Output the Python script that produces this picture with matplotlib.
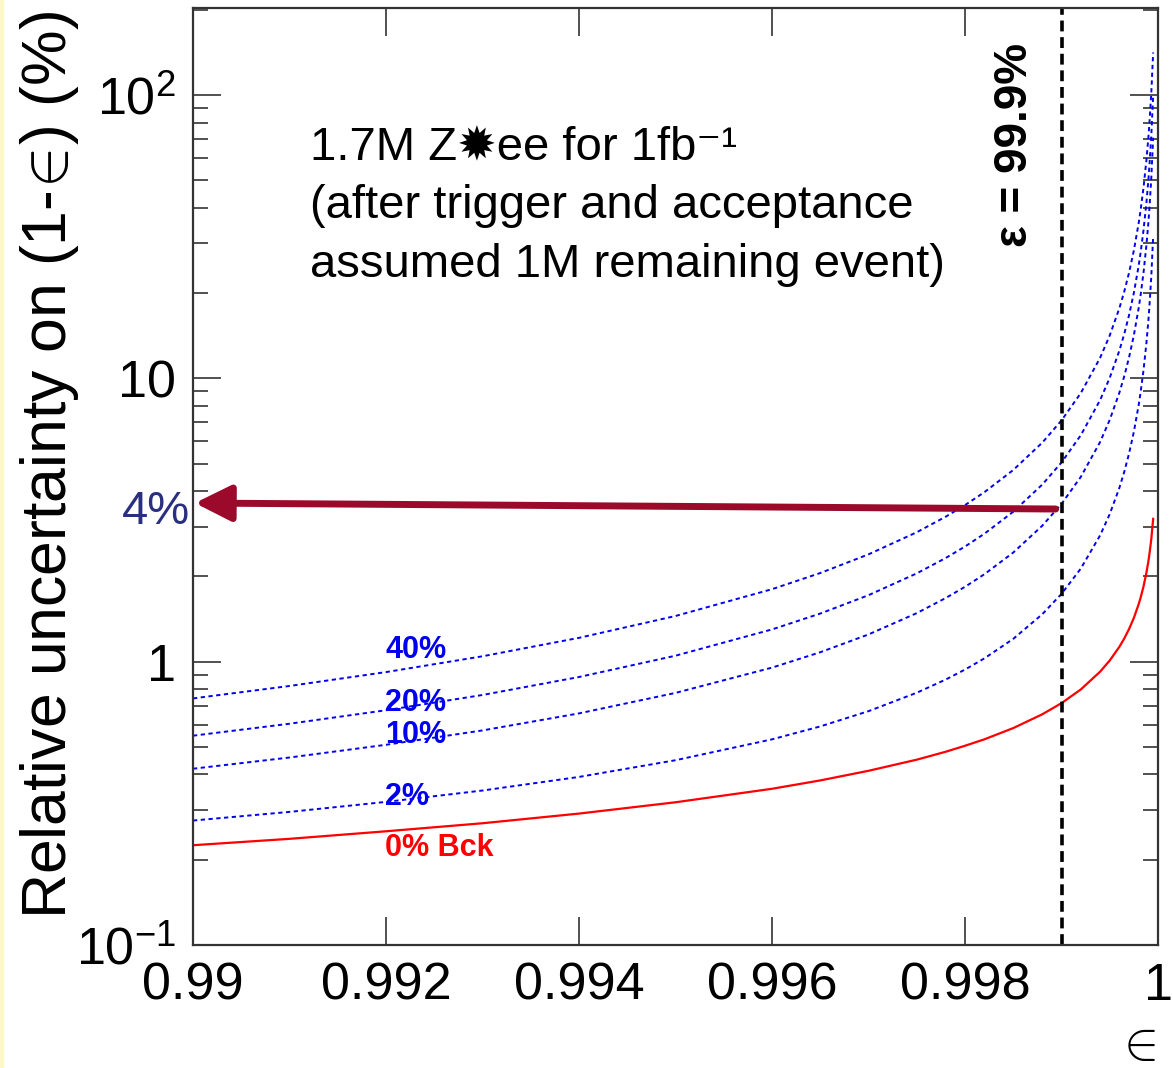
import numpy as np
import matplotlib
matplotlib.use('Agg')
import matplotlib.pyplot as plt
from matplotlib.ticker import LogLocator, NullFormatter, FixedLocator
from matplotlib.patches import Rectangle

plt.rcParams['font.family'] = ['Liberation Sans', 'DejaVu Sans']
plt.rcParams['mathtext.fontset'] = 'custom'
plt.rcParams['mathtext.rm'] = 'Liberation Sans'
plt.rcParams['mathtext.it'] = 'Liberation Sans:italic'
plt.rcParams['mathtext.bf'] = 'Liberation Sans:bold'

# efficiency points
eff = [0.990, 0.991, 0.992, 0.993, 0.994, 0.995, 0.996, 0.9965, 0.997, 0.9975,
       0.9978, 0.998, 0.9982, 0.9985, 0.9988, 0.999, 0.9992, 0.9994, 0.9995,
       0.9996, 0.99965, 0.9997, 0.99975, 0.9998, 0.99982, 0.99985, 0.99988,
       0.9999, 0.99991, 0.99993, 0.99995]

# relative uncertainty on (1-eff) in %, one list per background fraction
bck_0 = [0.225, 0.237, 0.252, 0.269, 0.291, 0.319, 0.356, 0.381, 0.412, 0.451,
         0.481, 0.505, 0.532, 0.583, 0.652, 0.714, 0.798, 0.922, 1.010, 1.129,
         1.207, 1.304, 1.428, 1.597, 1.683, 1.844, 2.062, 2.258, 2.381, 2.699, 3.194]
bck_2 = [0.275, 0.295, 0.320, 0.351, 0.392, 0.449, 0.532, 0.591, 0.669, 0.777,
         0.865, 0.938, 1.027, 1.204, 1.470, 1.735, 2.132, 2.792, 3.320, 4.111,
         4.676, 5.429, 6.484, 8.065, 8.944, 10.70, 13.34, 15.97, 17.73, 22.75, 31.78]
bck_10 = [0.419, 0.459, 0.509, 0.572, 0.657, 0.776, 0.953, 1.080, 1.248, 1.484,
          1.678, 1.838, 2.035, 2.428, 3.018, 3.607, 4.491, 5.964, 7.143, 8.911,
          10.17, 11.86, 14.21, 17.75, 19.71, 23.64, 29.54, 35.43, 39.36, 50.58, 70.78]
bck_20 = [0.548, 0.604, 0.674, 0.763, 0.883, 1.050, 1.300, 1.479, 1.717, 2.050,
          2.323, 2.550, 2.828, 3.384, 4.217, 5.051, 6.301, 8.384, 10.05, 12.55,
          14.34, 16.72, 20.05, 25.05, 27.83, 33.38, 41.72, 50.05, 55.61, 71.48, 100.05]
bck_40 = [0.742, 0.821, 0.919, 1.045, 1.214, 1.450, 1.803, 2.056, 2.393, 2.864,
          3.250, 3.571, 3.964, 4.750, 5.929, 7.107, 8.875, 11.82, 14.18, 17.71,
          20.24, 23.61, 28.32, 35.39, 39.32, 47.18, 58.96, 70.75, 78.60, 101.05, 141.46]

eff_cut = 0.999

x_ticks = [0.99, 0.992, 0.994, 0.996, 0.998, 1.0]
x_labels = ['0.99', '0.992', '0.994', '0.996', '0.998', '1']
y_ticks = [0.1, 1, 10, 100]
y_labels = ['$10^{-1}$', '1', '10', '$10^{2}$']

W, H = 1173, 1068
fig = plt.figure(figsize=(W / 100, H / 100), dpi=100)
ax = fig.add_axes([193 / W, 123 / H, 965 / W, 937 / H])

blue_ls = (0, (2.2, 1.8))
for vals in [bck_40, bck_20, bck_10, bck_2]:
    ax.plot(eff, vals, color='#0000ee', lw=1.4, ls=blue_ls)
ax.plot(eff, bck_0, color='#ff0000', lw=1.6)

ax.axvline(eff_cut, color='black', lw=2.6, ls=(0, (3, 1.6)))

ax.set_yscale('log')
ax.set_xlim(0.99, 1.0)
ax.set_ylim(0.1, 203)

ax.xaxis.set_major_locator(FixedLocator(x_ticks))
ax.set_xticklabels(x_labels)
ax.set_yticks(y_ticks)
ax.set_yticklabels(y_labels)
ax.yaxis.set_minor_locator(LogLocator(base=10, subs=np.arange(2, 10)))
ax.yaxis.set_minor_formatter(NullFormatter())

ax.tick_params(which='both', direction='in', top=True, right=True,
               width=1.1, color='#222222', labelsize=37.5, pad=12)
ax.tick_params(which='major', length=20)
ax.tick_params(which='minor', length=11)
for sp in ax.spines.values():
    sp.set_linewidth(1.6)
    sp.set_color('#333333')

# curve labels
lab_kw = dict(transform=ax.transAxes, ha='left', va='center',
              fontsize=22, fontweight='bold')
ax.text(0.199, 0.315, '40%', color='#0000ee', **lab_kw)
ax.text(0.199, 0.258, '20%', color='#0000ee', **lab_kw)
ax.text(0.199, 0.224, '10%', color='#0000ee', **lab_kw)
ax.text(0.199, 0.158, '2%', color='#0000ee', **lab_kw)
ax.text(0.199, 0.1035, '0% Bck', color='#ff0000', **lab_kw)

# arrow to 4%
ax.annotate('', xy=(0.002, 0.4717), xytext=(0.894, 0.4653),
            xycoords='axes fraction', textcoords='axes fraction',
            arrowprops=dict(arrowstyle='-|>,head_length=1.1,head_width=0.55',
                            color='#9b0a2a', lw=5, mutation_scale=20,
                            shrinkA=0, shrinkB=0))
fig.text(190 / W, 1 - 512 / H, '4%', color='#2b2f80', fontsize=34,
         ha='right', va='center')

# annotation text
fig.text(310 / W, 1 - 160 / H, '1.7M Z\u2739ee for 1fb\u207b\u00b9', fontsize=34,
         ha='left', va='baseline')
fig.text(310 / W, 1 - 218 / H, '(after trigger and acceptance', fontsize=34,
         ha='left', va='baseline')
fig.text(310 / W, 1 - 277 / H, 'assumed 1M remaining event)', fontsize=34,
         ha='left', va='baseline')

fig.text(1015 / W, 1 - 145 / H, '\u03b5 = 99.9%', fontsize=33, fontweight='bold',
         rotation=90, ha='center', va='center')

# axis titles
fig.text(50 / W, 1 - 465 / H, r'Relative uncertainty on (1-$\!\in\!$) (%)',
         fontsize=45, rotation=90, ha='center', va='center')
fig.text(1136 / W, 1 - 1045 / H, r'$\in$', fontsize=38, ha='center', va='center')

# thin yellow frame edge on the left
fig.patches.append(Rectangle((0, 0), 3 / W, 1, transform=fig.transFigure,
                             color='#fcf8c8', zorder=0))

fig.savefig('out.png', dpi=100)
